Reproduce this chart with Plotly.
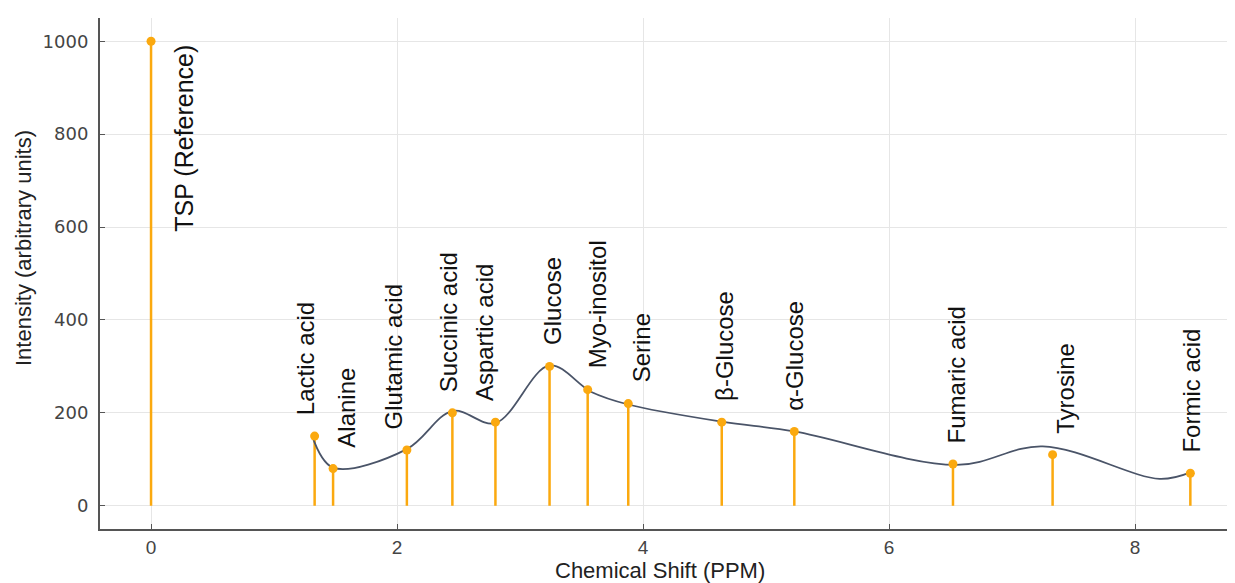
import plotly.graph_objects as go

# ---- data ----
compounds = ["TSP (Reference)", "Lactic acid", "Alanine", "Glutamic acid", "Succinic acid",
             "Aspartic acid", "Glucose", "Myo-inositol", "Serine", "β-Glucose", "α-Glucose",
             "Fumaric acid", "Tyrosine", "Formic acid"]
shift_ppm = [0.0, 1.33, 1.48, 2.08, 2.45, 2.80, 3.24, 3.55, 3.88, 4.64, 5.23, 6.52, 7.33, 8.45]
intensity = [1000, 150, 80, 120, 200, 180, 300, 250, 220, 180, 160, 90, 110, 70]

# smooth trend curve knots
curve_ppm = [1.31, 1.48, 2.08, 2.45, 2.80, 3.24, 3.58, 3.88, 4.64, 5.23, 6.55, 7.25, 8.20, 8.45]
curve_int = [150, 82, 122, 204, 178, 302, 245, 218, 181, 160, 88, 128, 58, 72]

x_ticks = [0, 2, 4, 6, 8]
y_ticks = [0, 200, 400, 600, 800, 1000]

# label styling offsets (pixels)
label_dx = [33, -9, 14, -13, -4, -11, 3, 10, 13, 2, 0, 3, 13, 1]

ORANGE = "#FBA90F"
CURVE = "#4A5468"
FONT = "Liberation Sans, Arial, sans-serif"

fig = go.Figure()

# stems
sx, sy = [], []
for xv, yv in zip(shift_ppm, intensity):
    sx += [xv, xv, None]
    sy += [0, yv, None]
fig.add_trace(go.Scatter(x=sx, y=sy, mode="lines",
                         line=dict(color=ORANGE, width=2.5),
                         hoverinfo="skip", showlegend=False))

# smooth curve
fig.add_trace(go.Scatter(x=curve_ppm, y=curve_int, mode="lines",
                         line=dict(color=CURVE, width=1.8, shape="spline", smoothing=1.0),
                         showlegend=False))

# markers
fig.add_trace(go.Scatter(x=shift_ppm, y=intensity, mode="markers",
                         marker=dict(color=ORANGE, size=9),
                         text=compounds, showlegend=False))

# labels
for i, (name, xv, yv) in enumerate(zip(compounds, shift_ppm, intensity)):
    if i == 0:
        fig.add_annotation(x=xv, y=yv, text=name, textangle=-90, showarrow=False,
                           xanchor="center", yanchor="top", xshift=label_dx[i], yshift=-2,
                           font=dict(family=FONT, size=25, color="#111111"))
    else:
        fig.add_annotation(x=xv, y=yv, text=name, textangle=-90, showarrow=False,
                           xanchor="center", yanchor="bottom", xshift=label_dx[i], yshift=19,
                           font=dict(family=FONT, size=24, color="#111111"))

# axis titles
fig.add_annotation(xref="paper", yref="paper", x=0.5, y=0, xanchor="center", yanchor="top",
                   yshift=-27, xshift=-8, showarrow=False, text="Chemical Shift (PPM)",
                   font=dict(family=FONT, size=22, color="#222222"))
fig.add_annotation(xref="paper", yref="paper", x=0, y=0.5, xanchor="right", yanchor="middle",
                   xshift=-62, yshift=25, textangle=-90, showarrow=False,
                   text="Intensity (arbitrary units)",
                   font=dict(family=FONT, size=22, color="#222222"))

fig.update_layout(
    width=1235, height=583,
    margin=dict(l=92, r=8, t=10, b=62),
    paper_bgcolor="white", plot_bgcolor="white",
    font=dict(family=FONT, color="#333333"),
)
fig.update_xaxes(
    range=[-0.415, 8.813], tickvals=x_ticks, ticktext=[str(t) for t in x_ticks],
    automargin=False,
    showgrid=True, gridcolor="#E6E6E6", gridwidth=1, zeroline=False,
    showline=True, linecolor="#555555", linewidth=2,
    ticks="inside", ticklen=5, tickcolor="#555555",
    tickfont=dict(family=FONT, size=19, color="#444444"),
)
fig.update_yaxes(
    range=[-50, 1050], tickvals=y_ticks, ticktext=[str(t) for t in y_ticks],
    automargin=False, ticklabelstandoff=6,
    showgrid=True, gridcolor="#E6E6E6", gridwidth=1, zeroline=False,
    showline=True, linecolor="#555555", linewidth=2,
    ticks="inside", ticklen=5, tickcolor="#555555",
    tickfont=dict(family="DejaVu Sans, sans-serif", size=18, color="#444444"),
)

fig.write_html("out.html")
